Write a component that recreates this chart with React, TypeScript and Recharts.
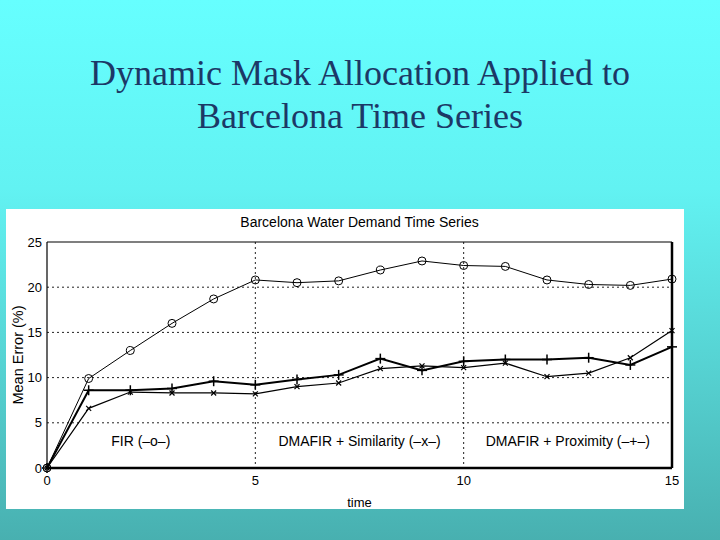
import React from "react";
import {
  LineChart,
  Line,
  XAxis,
  YAxis,
  CartesianGrid,
  ReferenceLine,
  ReferenceDot,
} from "recharts";

// time steps and mean error (%) per method
const time = [0, 1, 2, 3, 4, 5, 6, 7, 8, 9, 10, 11, 12, 13, 14, 15];
const fir = [0, 9.9, 13.0, 16.0, 18.7, 20.8, 20.5, 20.7, 21.9, 22.9, 22.4, 22.3, 20.8, 20.3, 20.2, 20.9];
const similarity = [0, 6.6, 8.4, 8.3, 8.3, 8.2, 9.0, 9.4, 11.0, 11.3, 11.1, 11.6, 10.1, 10.5, 12.2, 15.2];
const proximity = [0, 8.6, 8.6, 8.8, 9.6, 9.2, 9.8, 10.3, 12.1, 10.8, 11.8, 12.0, 12.0, 12.2, 11.4, 13.4];

const xTicks = [0, 5, 10, 15];
const yTicks = [0, 5, 10, 15, 20, 25];

const annotations = [
  { x: 2.25, y: 2.95, text: "FIR (\u2013o\u2013)" },
  { x: 7.5, y: 2.95, text: "DMAFIR + Similarity (\u2013x\u2013)" },
  { x: 12.5, y: 2.95, text: "DMAFIR + Proximity (\u2013+\u2013)" },
];

const data = time.map((t, i) => ({
  t,
  fir: fir[i],
  similarity: similarity[i],
  proximity: proximity[i],
}));

const sans = "'Liberation Sans', Arial, sans-serif";

function CircleDot(props: any) {
  const { cx, cy, index } = props;
  return <circle key={index} cx={cx} cy={cy} r={4} fill="none" stroke="#000" strokeWidth={1} />;
}

function CrossDot(props: any) {
  const { cx, cy, index } = props;
  const s = 2.5;
  return (
    <g key={index} stroke="#000" strokeWidth={1.2}>
      <line x1={cx - s} y1={cy - s} x2={cx + s} y2={cy + s} />
      <line x1={cx - s} y1={cy + s} x2={cx + s} y2={cy - s} />
    </g>
  );
}

function PlusDot(props: any) {
  const { cx, cy, index } = props;
  const s = 5;
  return (
    <g key={index} stroke="#000" strokeWidth={1.5}>
      <line x1={cx - s} y1={cy} x2={cx + s} y2={cy} />
      <line x1={cx} y1={cy - s} x2={cx} y2={cy + s} />
    </g>
  );
}

export default function App() {
  return (
    <div
      style={{
        position: "absolute",
        left: 0,
        top: 0,
        width: 720,
        height: 540,
        overflow: "hidden",
        background: "linear-gradient(180deg, #66ffff 0%, #62f2f2 35%, #55d0d0 70%, #48b0b0 100%)",
      }}
    >
      <div
        style={{
          position: "absolute",
          top: 52,
          left: 0,
          width: 720,
          textAlign: "center",
          fontFamily: "'Liberation Serif', 'Times New Roman', serif",
          fontSize: 36,
          lineHeight: "43px",
          color: "#1c3866",
        }}
      >
        Dynamic Mask Allocation Applied to
        <br />
        Barcelona Time Series
      </div>

      <div
        style={{
          position: "absolute",
          left: 6,
          top: 209,
          width: 678,
          height: 300,
          background: "#fff",
        }}
      >
        <div
          style={{
            position: "absolute",
            top: 5,
            left: 41,
            width: 625,
            textAlign: "center",
            fontFamily: sans,
            fontSize: 14,
            color: "#000",
          }}
        >
          Barcelona Water Demand Time Series
        </div>
        <LineChart
          width={678}
          height={300}
          data={data}
          margin={{ top: 33, right: 12, bottom: 0, left: 0 }}
        >
          <CartesianGrid
            stroke="#222"
            strokeDasharray="2 3"
            horizontalValues={[5, 10, 15, 20]}
            verticalValues={[5, 10]}
          />
          <XAxis
            dataKey="t"
            type="number"
            domain={[0, 15]}
            ticks={xTicks}
            height={41}
            axisLine={{ stroke: "#000", strokeWidth: 2.5 }}
            tickLine={false}
            tickSize={6}
            tickMargin={2}
            tick={{ fill: "#000", fontSize: 13, fontFamily: sans }}
            label={{
              value: "time",
              position: "insideBottom",
              offset: 2,
              style: { fill: "#000", fontSize: 13, fontFamily: sans },
            }}
          />
          <YAxis
            type="number"
            domain={[0, 25]}
            ticks={yTicks}
            width={41}
            axisLine={{ stroke: "#000", strokeWidth: 1.2 }}
            tickLine={false}
            tickSize={3}
            tickMargin={2}
            tick={{ fill: "#000", fontSize: 13, fontFamily: sans }}
            label={{
              value: "Mean Error (%)",
              angle: -90,
              position: "insideLeft",
              offset: 12,
              style: { fill: "#000", fontSize: 14.5, fontFamily: sans, textAnchor: "middle" },
            }}
          />
          <ReferenceLine y={25} stroke="#000" strokeWidth={1.2} />
          <ReferenceLine x={15} stroke="#000" strokeWidth={2.5} />
          {annotations.map((a) => (
            <ReferenceDot
              key={a.text}
              x={a.x}
              y={a.y}
              r={0}
              fill="none"
              stroke="none"
              label={{
                value: a.text,
                position: "center",
                style: { fill: "#000", fontSize: 14, fontFamily: sans },
              }}
            />
          ))}
          <Line
            dataKey="fir"
            stroke="#000"
            strokeWidth={1}
            dot={CircleDot}
            isAnimationActive={false}
          />
          <Line
            dataKey="similarity"
            stroke="#000"
            strokeWidth={1.2}
            dot={CrossDot}
            isAnimationActive={false}
          />
          <Line
            dataKey="proximity"
            stroke="#000"
            strokeWidth={2}
            dot={PlusDot}
            isAnimationActive={false}
          />
        </LineChart>
      </div>
    </div>
  );
}
